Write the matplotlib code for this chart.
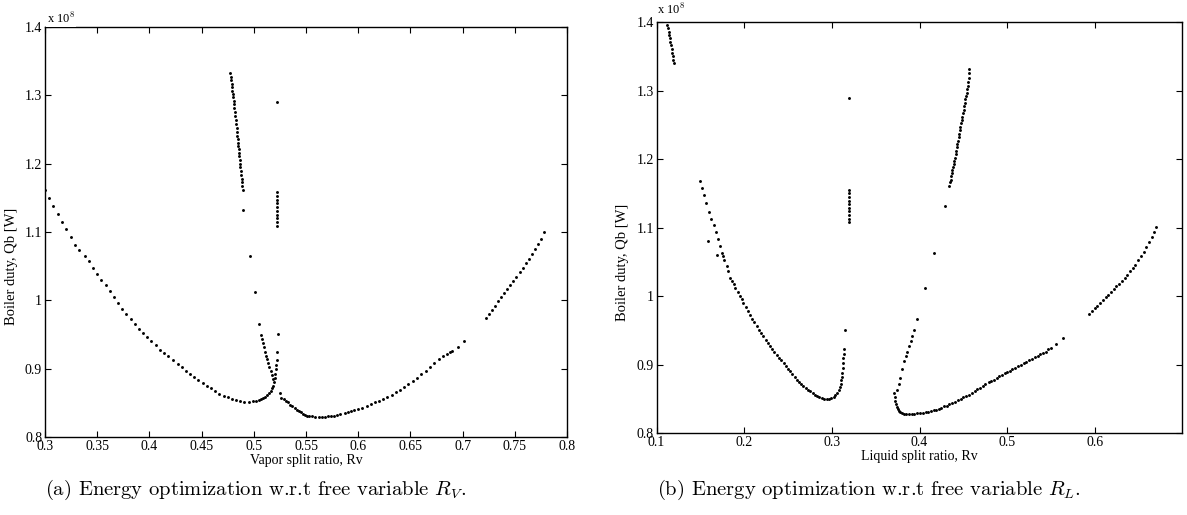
import matplotlib.pyplot as plt
from matplotlib.ticker import FuncFormatter

plt.rcParams['font.family'] = ['Liberation Serif', 'DejaVu Serif']
plt.rcParams['mathtext.fontset'] = 'cm'

# ---- (a) free variable Rv, boiler duty in 1e8 W ----
a_left_x = [0.300, 0.304, 0.308, 0.312, 0.316, 0.320, 0.325, 0.329, 0.333, 0.338,
            0.342, 0.346, 0.350, 0.354, 0.358, 0.362, 0.366, 0.370, 0.374, 0.378,
            0.382, 0.386, 0.390, 0.394, 0.398, 0.402, 0.406, 0.410, 0.414, 0.418,
            0.423, 0.427, 0.431, 0.435, 0.439, 0.443, 0.447, 0.451, 0.455, 0.459,
            0.463, 0.467, 0.471, 0.475, 0.479, 0.483, 0.487, 0.491, 0.495, 0.499,
            0.502, 0.505, 0.507, 0.509, 0.511, 0.513, 0.515, 0.516, 0.517, 0.518,
            0.519, 0.520, 0.5205, 0.521, 0.5215, 0.522, 0.522, 0.523]
a_left_q = [1.161, 1.150, 1.138, 1.126, 1.115, 1.104, 1.092, 1.081, 1.073, 1.065,
            1.057, 1.048, 1.039, 1.030, 1.022, 1.013, 1.005, 0.996, 0.988, 0.980,
            0.972, 0.965, 0.958, 0.952, 0.946, 0.940, 0.934, 0.928, 0.923, 0.918,
            0.912, 0.907, 0.902, 0.897, 0.892, 0.888, 0.883, 0.879, 0.875, 0.871,
            0.867, 0.863, 0.860, 0.858, 0.856, 0.854, 0.852, 0.851, 0.851, 0.852,
            0.853, 0.854, 0.855, 0.857, 0.859, 0.861, 0.864, 0.867, 0.871, 0.875,
            0.880, 0.886, 0.892, 0.899, 0.905, 0.912, 0.924, 0.951]

a_upper_x = [0.4775, 0.4779, 0.4783, 0.4787, 0.4791, 0.4795, 0.4799, 0.4803, 0.4807,
             0.4811, 0.4815, 0.4819, 0.4823, 0.4827, 0.4831, 0.4835, 0.4839, 0.4842,
             0.4845, 0.4848, 0.4851, 0.4854, 0.4857, 0.4860, 0.4865, 0.4869, 0.4872,
             0.4876, 0.4880, 0.4884, 0.4887, 0.4891, 0.4894,
             0.490, 0.496, 0.501, 0.505,
             0.507, 0.508, 0.5092, 0.5102, 0.511, 0.512, 0.513, 0.514, 0.515, 0.516,
             0.517, 0.518]
a_upper_q = [1.332, 1.327, 1.322, 1.317, 1.312, 1.307, 1.302, 1.297, 1.292,
             1.287, 1.282, 1.276, 1.270, 1.264, 1.258, 1.252, 1.246, 1.241,
             1.236, 1.231, 1.226, 1.221, 1.216, 1.211, 1.206, 1.200, 1.195,
             1.189, 1.184, 1.178, 1.173, 1.167, 1.162,
             1.132, 1.065, 1.012, 0.966,
             0.949, 0.943, 0.937, 0.931, 0.925, 0.919, 0.914, 0.908, 0.902, 0.896,
             0.890, 0.885]

a_vert_x = [0.522] * 11
a_vert_q = [1.290, 1.158, 1.153, 1.147, 1.142, 1.136, 1.131, 1.125, 1.120, 1.114, 1.109]

a_right_x = [0.525, 0.526, 0.529, 0.531, 0.533, 0.535, 0.537, 0.539, 0.541, 0.543,
             0.545, 0.547, 0.549, 0.551, 0.553, 0.556, 0.559, 0.562, 0.565, 0.568,
             0.571, 0.574, 0.577, 0.580, 0.583, 0.587, 0.590, 0.593, 0.596, 0.600,
             0.604, 0.608, 0.612, 0.616, 0.620, 0.624, 0.628, 0.632, 0.636, 0.640,
             0.644, 0.648, 0.652, 0.656, 0.660, 0.665, 0.669, 0.673, 0.677, 0.681,
             0.685, 0.688, 0.690, 0.696, 0.701]
a_right_q = [0.864, 0.857, 0.855, 0.853, 0.851, 0.847, 0.845, 0.843, 0.840, 0.838,
             0.836, 0.833, 0.832, 0.831, 0.830, 0.830, 0.829, 0.829, 0.829, 0.829,
             0.830, 0.830, 0.831, 0.832, 0.833, 0.835, 0.836, 0.838, 0.839, 0.841,
             0.843, 0.846, 0.848, 0.851, 0.853, 0.856, 0.859, 0.862, 0.866, 0.869,
             0.873, 0.877, 0.882, 0.887, 0.892, 0.897, 0.903, 0.908, 0.914, 0.918,
             0.922, 0.925, 0.926, 0.932, 0.940]

a_far_x = [0.7226, 0.7255, 0.7284, 0.7313, 0.7342, 0.7371, 0.7400, 0.7429, 0.7458, 0.7487,
           0.7516, 0.7545, 0.7574, 0.7603, 0.7632, 0.7661, 0.7690, 0.7719, 0.7748, 0.7778]
a_far_q = [0.974, 0.980, 0.986, 0.992, 0.999, 1.005, 1.011, 1.017, 1.023, 1.028,
           1.034, 1.041, 1.047, 1.054, 1.061, 1.068, 1.075, 1.082, 1.090, 1.100]

# ---- (b) free variable RL ----
b_top_x = [0.1123, 0.1130, 0.1137, 0.1144, 0.1151, 0.1158, 0.1165, 0.1172, 0.1179, 0.1186,
           0.1193, 0.1200]
b_top_q = [1.396, 1.391, 1.386, 1.381, 1.376, 1.371, 1.366, 1.361, 1.355, 1.350,
           1.345, 1.340]

b_left_x = [0.1497, 0.152, 0.1545, 0.157, 0.160, 0.1625, 0.165, 0.1675, 0.170, 0.1725,
            0.175, 0.1775, 0.180, 0.182, 0.184, 0.186, 0.188, 0.190, 0.1925, 0.195,
            0.197, 0.199, 0.2015, 0.204, 0.2065, 0.209, 0.2115, 0.2145, 0.217, 0.2195,
            0.222, 0.2245, 0.227, 0.2297, 0.232, 0.2345, 0.237, 0.2395, 0.242, 0.245,
            0.2475, 0.250, 0.2525, 0.255, 0.2575, 0.260, 0.2625, 0.265, 0.2675, 0.270,
            0.2725, 0.2754, 0.278, 0.2805, 0.283, 0.2855, 0.2888, 0.2915, 0.2945, 0.297,
            0.2995, 0.302, 0.304, 0.306, 0.3078, 0.309, 0.310, 0.311, 0.3117, 0.312,
            0.3125, 0.3128, 0.3131, 0.3133, 0.3135, 0.3154,
            0.1585, 0.1688, 0.1757]
b_left_q = [1.168, 1.158, 1.147, 1.136, 1.123, 1.113, 1.103, 1.093, 1.083, 1.073,
            1.063, 1.053, 1.044, 1.036, 1.027, 1.022, 1.017, 1.012, 1.006, 1.000,
            0.995, 0.990, 0.984, 0.978, 0.973, 0.967, 0.962, 0.956, 0.951, 0.946,
            0.941, 0.936, 0.931, 0.927, 0.923, 0.919, 0.914, 0.910, 0.906, 0.902,
            0.898, 0.894, 0.890, 0.886, 0.882, 0.878, 0.875, 0.872, 0.869, 0.866,
            0.863, 0.861, 0.858, 0.856, 0.854, 0.852, 0.851, 0.850, 0.8496, 0.8497,
            0.8505, 0.853, 0.855, 0.859, 0.863, 0.867, 0.872, 0.877, 0.882, 0.888,
            0.895, 0.902, 0.909, 0.916, 0.923, 0.950,
            1.080, 1.060, 1.058]

b_vert_x = [0.3195] * 11
b_vert_q = [1.289, 1.155, 1.150, 1.145, 1.139, 1.134, 1.129, 1.124, 1.118, 1.113, 1.108]

b_steep_x = [0.3747, 0.3762, 0.3777, 0.3795, 0.3823, 0.3841, 0.386, 0.388, 0.3898, 0.3917,
             0.3936, 0.3966, 0.4065, 0.417, 0.4288,
             0.4340, 0.4347, 0.4354, 0.4361, 0.4368, 0.4375, 0.4382, 0.4390, 0.4397,
             0.4404, 0.4411, 0.4418, 0.4425, 0.4432, 0.4439, 0.4446, 0.4453, 0.4460,
             0.4467, 0.4474, 0.4481, 0.4488, 0.4495, 0.4502, 0.4509, 0.4516, 0.4523,
             0.4530, 0.4537, 0.4544, 0.4551, 0.4558, 0.4562, 0.4564, 0.4566]
b_steep_q = [0.863, 0.871, 0.880, 0.894, 0.905, 0.912, 0.919, 0.927, 0.934, 0.942,
             0.951, 0.966, 1.011, 1.063, 1.131,
             1.161, 1.166, 1.170, 1.175, 1.179, 1.184, 1.188, 1.193, 1.197,
             1.202, 1.207, 1.212, 1.217, 1.222, 1.227, 1.232, 1.237, 1.242,
             1.247, 1.252, 1.257, 1.262, 1.267, 1.272, 1.277, 1.282, 1.287,
             1.292, 1.297, 1.302, 1.307, 1.313, 1.319, 1.325, 1.331]

b_right_x = [0.3709, 0.3715, 0.3722, 0.373, 0.374, 0.3752, 0.3766, 0.378, 0.380, 0.382,
             0.3845, 0.388, 0.391, 0.394, 0.397, 0.400, 0.4038, 0.407, 0.410, 0.413,
             0.416, 0.4188, 0.422, 0.425, 0.428, 0.431, 0.434, 0.4376, 0.441, 0.444,
             0.447, 0.450, 0.453, 0.4564, 0.460, 0.463, 0.466, 0.469, 0.472, 0.4752,
             0.479, 0.482, 0.485, 0.488, 0.491, 0.494, 0.497, 0.500, 0.503, 0.506,
             0.509, 0.5128, 0.516, 0.519, 0.522, 0.525, 0.528, 0.5316, 0.535, 0.538,
             0.541, 0.544, 0.547, 0.5504, 0.5557, 0.5632]
b_right_q = [0.858, 0.852, 0.847, 0.842, 0.838, 0.835, 0.8315, 0.830, 0.829, 0.828,
             0.8278, 0.8278, 0.8280, 0.8283, 0.8287, 0.829, 0.8295, 0.830, 0.831, 0.832,
             0.833, 0.834, 0.8355, 0.837, 0.839, 0.840, 0.842, 0.844, 0.846, 0.848,
             0.850, 0.852, 0.854, 0.856, 0.859, 0.861, 0.864, 0.866, 0.869, 0.871,
             0.874, 0.876, 0.878, 0.880, 0.883, 0.885, 0.887, 0.889, 0.891, 0.893,
             0.895, 0.898, 0.900, 0.902, 0.904, 0.906, 0.908, 0.911, 0.913, 0.915,
             0.917, 0.919, 0.922, 0.924, 0.930, 0.938]

b_far_x = [0.5936, 0.5967, 0.5998, 0.6029, 0.6060, 0.6091, 0.6122, 0.6153, 0.6184, 0.6215,
           0.6246, 0.6277, 0.6308, 0.6339, 0.6370, 0.6401, 0.6432, 0.6463, 0.6494, 0.6525,
           0.6556, 0.6587, 0.6618, 0.6649, 0.6680, 0.6700]
b_far_q = [0.974, 0.978, 0.982, 0.986, 0.990, 0.994, 0.998, 1.002, 1.006, 1.010,
           1.014, 1.018, 1.022, 1.026, 1.031, 1.036, 1.041, 1.046, 1.052, 1.058,
           1.065, 1.072, 1.079, 1.086, 1.094, 1.101]

a_xticks = [0.3, 0.35, 0.4, 0.45, 0.5, 0.55, 0.6, 0.65, 0.7, 0.75, 0.8]
b_xticks = [0.1, 0.2, 0.3, 0.4, 0.5, 0.6]
q_ticks = [0.8, 0.9, 1.0, 1.1, 1.2, 1.3, 1.4]


def style_axes(ax, xlim, xticks, xlabel):
    ax.set_xlim(xlim)
    ax.set_ylim(0.8, 1.4)
    ax.set_xticks(xticks)
    ax.set_yticks(q_ticks)
    ax.xaxis.set_major_formatter(FuncFormatter(lambda v, p: f"{v:g}"))
    ax.yaxis.set_major_formatter(FuncFormatter(lambda v, p: f"{v:g}"))
    ax.tick_params(direction="in", top=True, right=True, length=4, width=0.8,
                   labelsize=10, pad=2)
    for s in ax.spines.values():
        s.set_linewidth(1.0)
    ax.set_xlabel(xlabel, fontsize=10, labelpad=1)
    ax.set_ylabel("Boiler duty, Qb [W]", fontsize=10.5)
    ax.yaxis.set_label_coords(-0.052, 0.415)


def dots(ax, xs, qs):
    ax.plot(xs, qs, linestyle="none", marker="o", markersize=2.1,
            markeredgewidth=0, color="k")


fig = plt.figure(figsize=(11.87, 5.15), dpi=100)
ax1 = fig.add_axes([0.0379, 0.1515, 0.4398, 0.796])
ax2 = fig.add_axes([0.5531, 0.1592, 0.4431, 0.798])

for xs, qs in [(a_left_x, a_left_q), (a_upper_x, a_upper_q), (a_vert_x, a_vert_q),
               (a_right_x, a_right_q), (a_far_x, a_far_q)]:
    dots(ax1, xs, qs)
for xs, qs in [(b_top_x, b_top_q), (b_left_x, b_left_q), (b_vert_x, b_vert_q),
               (b_steep_x, b_steep_q), (b_right_x, b_right_q), (b_far_x, b_far_q)]:
    dots(ax2, xs, qs)

style_axes(ax1, (0.3, 0.8), a_xticks, "Vapor split ratio, Rv")
style_axes(ax2, (0.1, 0.7), b_xticks, "Liquid split ratio, Rv")

ax1.text(0.004, 1.003, "x 10$^8$", transform=ax1.transAxes, fontsize=9,
         va="bottom", ha="left", bbox=dict(facecolor="white", edgecolor="none", pad=0.5))
ax2.text(0.0, 1.012, "x 10$^8$", transform=ax2.transAxes, fontsize=9,
         va="bottom", ha="left")

fig.text(0.0379, 0.049, "(a) Energy optimization w.r.t free variable $R_V$.",
         family="cmr10", fontsize=14.8, ha="left", va="center")
fig.text(0.5531, 0.049, "(b) Energy optimization w.r.t free variable $R_L$.",
         family="cmr10", fontsize=14.8, ha="left", va="center")

fig.savefig("out.png", dpi=100)
